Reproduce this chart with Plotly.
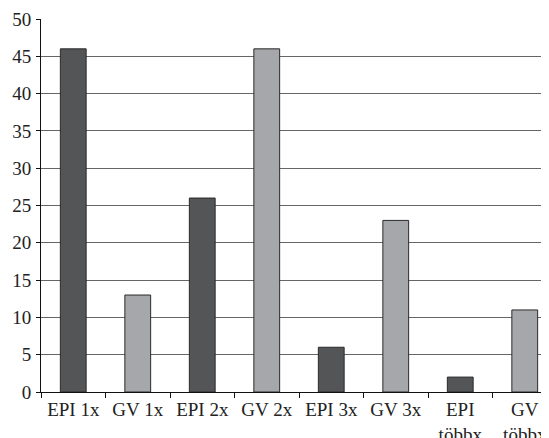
import plotly.graph_objects as go

categories = ["EPI 1x", "GV 1x", "EPI 2x", "GV 2x", "EPI 3x", "GV 3x", "EPI<br>többx", "GV<br>többx"]
values = [46, 13, 26, 46, 6, 23, 2, 11]
bar_colors = ["#545557", "#a6a7aa", "#545557", "#a6a7aa", "#545557", "#a6a7aa", "#545557", "#a6a7aa"]
y_ticks = [0, 5, 10, 15, 20, 25, 30, 35, 40, 45, 50]

fig = go.Figure(go.Bar(
    x=categories,
    y=values,
    marker=dict(color=bar_colors, line=dict(color="#2a2a2a", width=1)),
    width=0.4,
))

font = dict(family="Liberation Serif, DejaVu Serif, serif", size=19, color="#222")

# page body has an 8px margin, so the figure is sized/offset to compensate
fig.update_layout(
    width=541, height=430,
    margin=dict(l=33, r=0, t=11, b=46),
    paper_bgcolor="white", plot_bgcolor="white",
    showlegend=False,
    font=font,
    xaxis=dict(
        type="category",
        range=[-0.5, 7.376],
        showgrid=False,
        showline=True, linecolor="#111", linewidth=1,
        ticks="outside", tickson="boundaries", ticklen=5, tickcolor="#111",
        zeroline=False,
        automargin=False,
        ticklabelstandoff=0,
    ),
    yaxis=dict(
        range=[0, 50],
        tickvals=y_ticks,
        showgrid=True, gridcolor="#666", gridwidth=1,
        showline=True, linecolor="#111", linewidth=1,
        ticks="outside", ticklen=4, tickcolor="#111",
        zeroline=False,
        automargin=False,
        ticklabelstandoff=1,
    ),
)

fig.write_html("out.html")
